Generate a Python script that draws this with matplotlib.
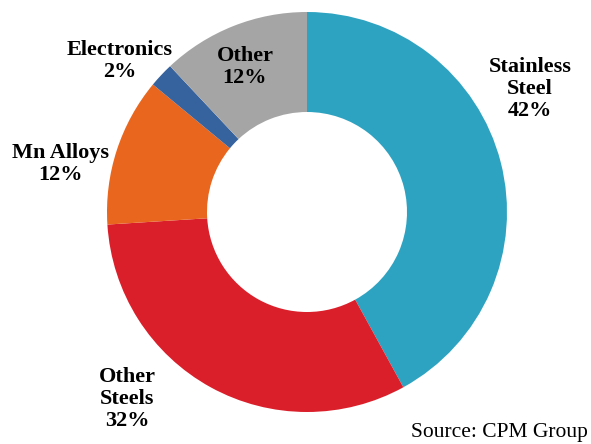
import matplotlib
matplotlib.use("Agg")
from matplotlib import pyplot as plt

# share of demand by end use
labels = ["Stainless\nSteel\n42%", "Other\nSteels\n32%", "Mn Alloys\n12%",
          "Electronics\n2%", "Other\n12%"]
shares = [42, 32, 12, 2, 12]
colors = ["#2EA3C1", "#DA1F2B", "#E9661E", "#36629E", "#A5A5A5"]

# where each label sits (pixel coords, y measured from the top)
label_pos = [(530, 89), (127, 399), (60, 164), (120, 61), (245, 67)]

plt.rcParams["font.family"] = ["Liberation Serif", "DejaVu Serif"]

fig = plt.figure(figsize=(5.91, 4.44), dpi=100)
ax = fig.add_axes([0, 0, 1, 1])
ax.set_xlim(0, 591)
ax.set_ylim(0, 444)
ax.set_aspect("equal")
ax.axis("off")

ax.pie(shares, colors=colors, startangle=90, counterclock=False,
       center=(307, 232), radius=200,
       wedgeprops=dict(width=100, linewidth=0))
ax.set_xlim(0, 591)
ax.set_ylim(0, 444)

for (text, (x, y)) in zip(labels, label_pos):
    ax.text(x, 444 - y, text, ha="center", va="center",
            fontsize=16, fontweight="bold", linespacing=1.12)

ax.text(588, 444 - 432, "Source: CPM Group", ha="right", va="center",
        fontsize=15.5)

fig.savefig("out.png", dpi=100)
